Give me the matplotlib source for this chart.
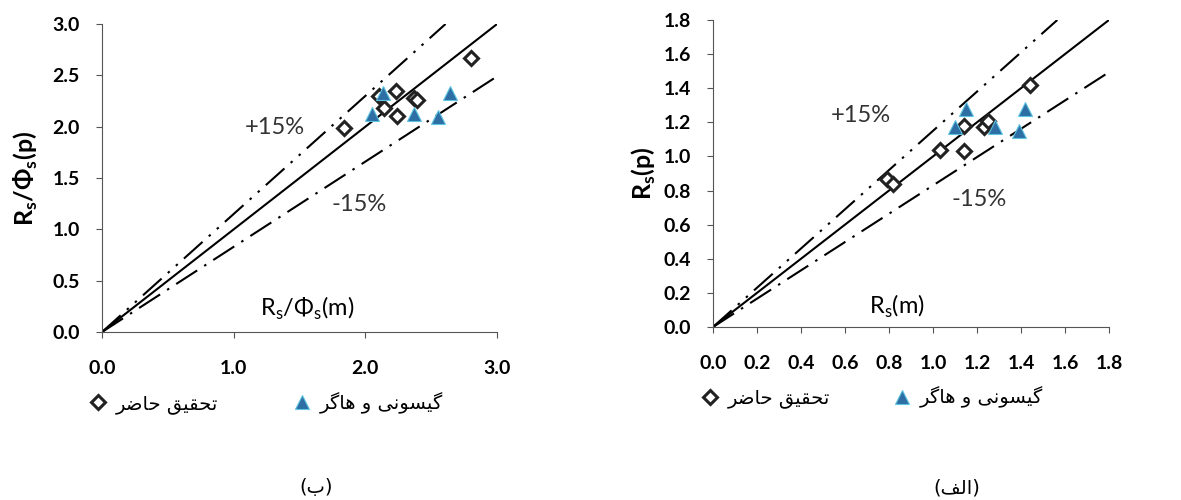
import matplotlib
matplotlib.use("Agg")
import matplotlib.pyplot as plt
import numpy as np

plt.rcParams['font.family'] = ['Lato', 'DejaVu Sans']
plt.rcParams['mathtext.fontset'] = 'custom'
plt.rcParams['mathtext.rm'] = 'Lato'
plt.rcParams['mathtext.bf'] = 'Lato:bold'

# panel (b): Rs/Phi_s
b_present_x = [1.84, 2.10, 2.14, 2.23, 2.24, 2.37, 2.39, 2.80]
b_present_y = [1.99, 2.30, 2.18, 2.35, 2.10, 2.28, 2.26, 2.67]
b_hager_x = [2.05, 2.13, 2.37, 2.55, 2.64]
b_hager_y = [2.12, 2.33, 2.12, 2.09, 2.33]
b_xticks = [0.0, 1.0, 2.0, 3.0]
b_yticks = [0.0, 0.5, 1.0, 1.5, 2.0, 2.5, 3.0]

# panel (alef): Rs
a_present_x = [0.79, 0.82, 1.03, 1.14, 1.14, 1.23, 1.25, 1.44]
a_present_y = [0.87, 0.84, 1.04, 1.18, 1.03, 1.17, 1.21, 1.42]
a_hager_x = [1.10, 1.15, 1.28, 1.39, 1.42]
a_hager_y = [1.17, 1.28, 1.17, 1.15, 1.28]
a_ticks = [0.0, 0.2, 0.4, 0.6, 0.8, 1.0, 1.2, 1.4, 1.6, 1.8]

upper_slope = 1.15
lower_slope = 0.83

# pre-shaped persian text (visual order, presentation forms)
lbl_present = '\ufeae\ufebf\ufe8e\ufea3 \ufed6\ufbff\ufed8\ufea4\ufe97'
lbl_hager = '\ufeae\ufb94\ufe8e\ufeeb \ufeed \ufbfd\ufee7\ufeee\ufeb4\ufbff\ufb94'
cap_b = '(\ufe8f)'
cap_a = '(\ufed2\ufedf\ufe8d)'

fig = plt.figure(figsize=(11.81, 5), dpi=100)
ax1 = fig.add_axes([0.0864, 0.336, 0.3345, 0.616])
ax2 = fig.add_axes([0.6037, 0.346, 0.3353, 0.614])


def panel(ax, lim, xt, yt, px, py, hx, hy, ylab, xlab, xlab_pos, up_pos, lo_pos,
          lpad, leg_x, colsp):
    x = np.array([0, lim])
    ax.plot(x, x, color='black', lw=1.5)
    ax.plot([0, lim / upper_slope], [0, lim], color='black', lw=1.5,
            linestyle=(0, (12, 4, 1.2, 4, 1.2, 4)))
    ax.plot(x, x * lower_slope, color='black', lw=1.5,
            linestyle=(0, (12, 4, 1.2, 4)))
    ax.plot(px, py, 'D', ms=7, mfc='white', mec='#222222', mew=2.2,
            linestyle='none', label=lbl_present)
    ax.plot(hx, hy, '^', ms=10, mfc='#2D6EA5', mec='#5EC3E0', mew=0.8,
            linestyle='none', label=lbl_hager)
    ax.set_xlim(0, lim)
    ax.set_ylim(0, lim)
    ax.set_xticks(xt)
    ax.set_yticks(yt)
    ax.set_xticklabels(['%.1f' % t for t in xt], fontweight='bold', fontsize=14)
    ax.set_yticklabels(['%.1f' % t for t in yt], fontweight='bold', fontsize=14)
    ax.tick_params(axis='x', direction='out', length=4, pad=16, color='#555555')
    ax.tick_params(axis='y', direction='out', length=4, pad=12, color='#555555')
    for s in ['top', 'right']:
        ax.spines[s].set_visible(False)
    for s in ['left', 'bottom']:
        ax.spines[s].set_color('#555555')
    ax.set_ylabel(ylab, fontsize=18, fontweight='bold', labelpad=lpad)
    ax.text(xlab_pos[0], xlab_pos[1], xlab, fontsize=17, ha='center', va='center')
    ax.text(up_pos[0], up_pos[1], '+15%', fontsize=17, ha='center', va='center',
            color='#333333')
    ax.text(lo_pos[0], lo_pos[1], '-15%', fontsize=17, ha='center', va='center',
            color='#333333')
    ax.legend(loc='center left', bbox_to_anchor=(leg_x, -0.23), ncol=2,
              frameon=False, columnspacing=colsp, handletextpad=0.4,
              handlelength=1.0, prop={'family': 'DejaVu Sans', 'size': 14})


panel(ax1, 3.0, b_xticks, b_yticks, b_present_x, b_present_y, b_hager_x, b_hager_y,
      r'R$_\mathbf{s}$/Φ$_\mathbf{s}$(p)', r'R$_\mathregular{s}$/Φ$_\mathregular{s}$(m)',
      (1.56, 0.23), (1.31, 1.99), (1.95, 1.24), 9, -0.078, 3.8)
panel(ax2, 1.8, a_ticks, a_ticks, a_present_x, a_present_y, a_hager_x, a_hager_y,
      r'R$_\mathbf{s}$(p)', r'R$_\mathregular{s}$(m)',
      (0.835, 0.12), (0.67, 1.24), (1.21, 0.75), 4, -0.075, 3.2)

fig.text(0.268, 0.024, cap_b, fontsize=14, ha='center', va='center', family='DejaVu Sans')
fig.text(0.810, 0.024, cap_a, fontsize=14, ha='center', va='center', family='DejaVu Sans')

fig.savefig('out.png', dpi=100)
